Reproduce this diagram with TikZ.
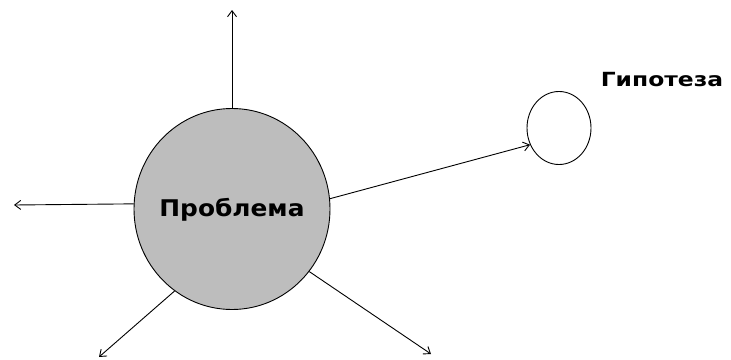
\documentclass[tikz,border=0pt]{standalone}
\usepackage{fontspec}
\setmainfont{DejaVu Sans}
\usetikzlibrary{arrows.meta,shapes.geometric}
\begin{document}
\begin{tikzpicture}[x=1pt,y=-1pt,
  conn/.style={line width=0.9pt,-{Straight Barb[length=6pt,width=9pt,line width=0.9pt]}},
  bigcirc/.style={draw,line width=0.9pt,ellipse,fill=black!26,minimum width=196pt,minimum height=201pt,inner sep=0pt},
  smallcirc/.style={draw,line width=0.9pt,ellipse,minimum width=64pt,minimum height=73pt,inner sep=0pt},
  lbl/.style={font=\bfseries,inner sep=0pt}]
\useasboundingbox (0,0) rectangle (731,359);
\node[bigcirc] (prob) at (232,209) {};
\node[lbl,font=\bfseries\fontsize{23}{25}\selectfont] (probtxt) at (232,210) {\scalebox{1.08}[1]{Проблема}};
\node[smallcirc] (hyp) at (559,128) {};
\node[lbl,font=\bfseries\fontsize{19.5}{21}\selectfont] (hyptxt) at (662,80) {\scalebox{1.2}[1]{Гипотеза}};
\coordinate (tUp) at (232,10);
\coordinate (tLeft) at (14,205);
\coordinate (tLL) at (99,357);
\coordinate (tLR) at (431,354);
\draw[conn] (prob.north) -- (tUp);
\draw[conn] (prob.177.7) -- (tLeft);
\draw[conn] (prob.235) -- (tLL);
\draw[conn] (prob.-39) -- (tLR);
\draw[conn] (prob.6) -- (hyp.210);
\end{tikzpicture}
\end{document}
